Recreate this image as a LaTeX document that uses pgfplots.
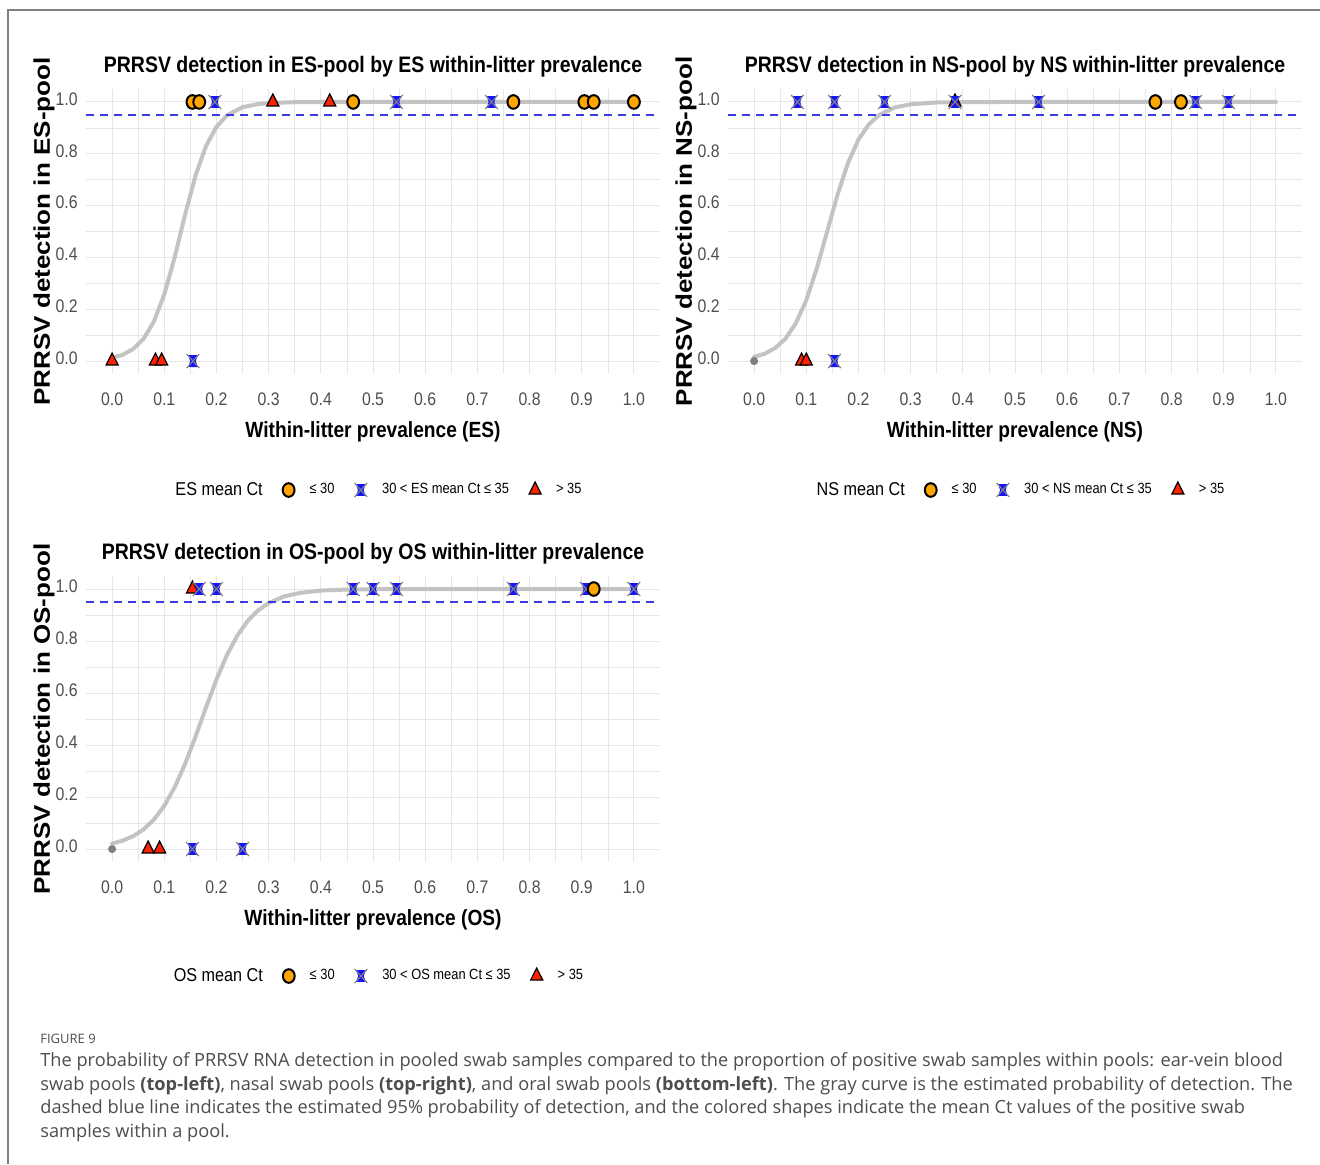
\documentclass[border=0pt]{standalone}
\usepackage{fontspec}
\setmainfont{Liberation Sans}
\newfontfamily\capfont{Open Sans}
\usepackage{graphicx}
\usepackage{pgfplots}
\pgfplotsset{compat=1.18}

\definecolor{ctorange}{HTML}{FFA500}
\definecolor{ctblue}{HTML}{1414FF}
\definecolor{ctred}{HTML}{FF2200}
\definecolor{curvegray}{HTML}{BDBDBD}
\definecolor{dashblue}{HTML}{3A3AE6}
\definecolor{gridgray}{HTML}{E6E6E6}
\definecolor{tickgray}{HTML}{4D4D4D}
\definecolor{captext}{HTML}{4D4D4D}
\definecolor{framegray}{HTML}{808080}

\newcommand{\sx}[1]{\scalebox{0.87}[1]{#1}}

\pgfdeclareplotmark{bowx}{%
  \pgfpathmoveto{\pgfpoint{-0.75\pgfplotmarksize}{-0.85\pgfplotmarksize}}%
  \pgfpathlineto{\pgfpoint{0.75\pgfplotmarksize}{-0.85\pgfplotmarksize}}%
  \pgfpathlineto{\pgfpoint{0.45\pgfplotmarksize}{0pt}}%
  \pgfpathlineto{\pgfpoint{0.75\pgfplotmarksize}{0.85\pgfplotmarksize}}%
  \pgfpathlineto{\pgfpoint{-0.75\pgfplotmarksize}{0.85\pgfplotmarksize}}%
  \pgfpathlineto{\pgfpoint{-0.45\pgfplotmarksize}{0pt}}%
  \pgfpathclose
  \pgfsetfillcolor{ctblue}\pgfusepathqfill
  \pgfpathmoveto{\pgfpoint{-\pgfplotmarksize}{-\pgfplotmarksize}}%
  \pgfpathlineto{\pgfpoint{\pgfplotmarksize}{\pgfplotmarksize}}%
  \pgfpathmoveto{\pgfpoint{-\pgfplotmarksize}{\pgfplotmarksize}}%
  \pgfpathlineto{\pgfpoint{\pgfplotmarksize}{-\pgfplotmarksize}}%
  \pgfsetstrokecolor{gray}\pgfsetlinewidth{0.6pt}\pgfusepathqstroke
}

\pgfplotsset{
  circ/.style={only marks, mark=*, mark size=3.4pt,
    mark options={fill=ctorange, draw=black, line width=1pt, xscale=0.87}},
  xm/.style={only marks, mark=bowx, mark size=3.5pt, mark options={xscale=0.9}},
  tri/.style={only marks, mark=triangle*, mark size=4pt,
    mark options={fill=ctred, draw=black, line width=0.6pt, xscale=0.87}},
  gdot/.style={only marks, mark=*, mark size=1.8pt, mark options={fill=gray, draw=gray}},
  fit/.style={no marks, draw=curvegray, line width=2pt, opacity=0.9, line cap=round},
  p95/.style={no marks, draw=dashblue, line width=1pt, dash pattern=on 4pt off 3pt},
  panel/.style={
    scale only axis, width=287pt,
    xmin=-0.05, xmax=1.05, ymin=-0.05, ymax=1.05,
    xtick={0,0.1,0.2,0.3,0.4,0.5,0.6,0.7,0.8,0.9,1},
    xticklabels={\sx{0.0},\sx{0.1},\sx{0.2},\sx{0.3},\sx{0.4},\sx{0.5},\sx{0.6},\sx{0.7},\sx{0.8},\sx{0.9},\sx{1.0}},
    ytick={0,0.2,0.4,0.6,0.8,1},
    yticklabels={\sx{0.0},\sx{0.2},\sx{0.4},\sx{0.6},\sx{0.8},\sx{1.0}},
    minor xtick={0.05,0.15,0.25,0.35,0.45,0.55,0.65,0.75,0.85,0.95},
    minor ytick={0.1,0.3,0.5,0.7,0.9},
    grid=both,
    major grid style={draw=gridgray, line width=0.5pt},
    minor grid style={draw=gridgray, line width=0.3pt},
    axis line style={draw=none},
    major tick length=0pt, minor tick length=0pt,
    tick style={draw=none},
    ticklabel style={font=\fontsize{9.1}{10}\selectfont, text=tickgray},
    xticklabel style={anchor=north, inner sep=0pt, yshift=-9pt},
    yticklabel style={anchor=east, inner sep=0pt, xshift=-4pt, yshift=1.5pt},
    title style={at={(axis description cs:0.5,1)}, anchor=center, yshift=5.25pt,
      font=\bfseries\fontsize{11.2}{13}\selectfont},
    xlabel style={at={(axis description cs:0.5,0)}, anchor=center, yshift=-29pt,
      font=\bfseries\fontsize{11}{13}\selectfont},
    ylabel style={at={([xshift=-21pt]axis description cs:0,0.5)}, anchor=center,
      font=\bfseries\fontsize{13}{15}\selectfont},
    legend columns=-1,
    legend style={draw=none, fill=none, at={(axis description cs:0.5,0)}, anchor=center,
      yshift=-58pt, font=\fontsize{7.4}{9}\selectfont,
      /tikz/every odd column/.append style={column sep=5.5pt},
      /tikz/every even column/.append style={column sep=8pt}},
  }
}

\begin{document}
\begin{tikzpicture}
\useasboundingbox (0,0) rectangle (660pt,-582pt);
\draw[framegray, line width=0.75pt] (4pt,-582pt) -- (4pt,-5pt) -- (660pt,-5pt);

% ---------------- ES panel ----------------
\begin{axis}[panel, height=142.5pt, at={(43pt,-187pt)}, anchor=south west,
  title={\sx{PRRSV detection in ES-pool by ES within-litter prevalence}},
  xlabel={\sx{Within-litter prevalence (ES)}},
  ylabel={\scalebox{1}[0.87]{PRRSV detection in ES-pool}}]
\addlegendimage{empty legend}\addlegendentry{\fontsize{9.3}{11}\selectfont\sx{ES mean Ct}}
\addlegendimage{circ}\addlegendentry{\sx{≤ 30}}
\addlegendimage{xm}\addlegendentry{\sx{30 < ES mean Ct ≤ 35}}
\addlegendimage{tri}\addlegendentry{\sx{> 35}}
\addplot[xm, forget plot] coordinates {(0.197,1)(0.545,1)(0.727,1)(0.155,0)};
\addplot[tri, forget plot] coordinates {(0.308,1)(0.417,1)(0.0,0)(0.083,0)(0.095,0)};
\addplot[circ, forget plot] coordinates {(0.154,1)(0.167,1)(0.462,1)(0.769,1)(0.905,1)(0.923,1)(1.0,1)};
\addplot[fit, forget plot] coordinates {(0,0.013)(0.02,0.024)(0.04,0.046)(0.06,0.085)(0.08,0.152)(0.10,0.257)(0.12,0.401)(0.14,0.566)(0.16,0.716)(0.18,0.830)(0.20,0.904)(0.22,0.948)(0.25,0.980)(0.28,0.992)(0.30,0.996)(0.35,0.999)(0.40,1.0)(1.0,1.0)};
\addplot[p95, forget plot] coordinates {(-0.05,0.95)(1.05,0.95)};
\end{axis}

% ---------------- NS panel ----------------
\begin{axis}[panel, height=142.5pt, at={(364pt,-187pt)}, anchor=south west,
  title={\sx{PRRSV detection in NS-pool by NS within-litter prevalence}},
  xlabel={\sx{Within-litter prevalence (NS)}},
  ylabel={\scalebox{1}[0.87]{PRRSV detection in NS-pool}}]
\addlegendimage{empty legend}\addlegendentry{\fontsize{9.3}{11}\selectfont\sx{NS mean Ct}}
\addlegendimage{circ}\addlegendentry{\sx{≤ 30}}
\addlegendimage{xm}\addlegendentry{\sx{30 < NS mean Ct ≤ 35}}
\addlegendimage{tri}\addlegendentry{\sx{> 35}}
\addplot[gdot, forget plot] coordinates {(0,0)};
\addplot[tri, forget plot] coordinates {(0.385,1)(0.091,0)(0.100,0)};
\addplot[xm, forget plot] coordinates {(0.083,1)(0.154,1)(0.25,1)(0.385,1)(0.545,1)(0.846,1)(0.909,1)(0.154,0)};
\addplot[circ, forget plot] coordinates {(0.769,1)(0.818,1)};
\addplot[fit, forget plot] coordinates {(0,0.016)(0.02,0.028)(0.04,0.050)(0.06,0.086)(0.08,0.146)(0.10,0.235)(0.12,0.357)(0.14,0.500)(0.16,0.643)(0.18,0.765)(0.20,0.855)(0.22,0.914)(0.24,0.950)(0.27,0.979)(0.30,0.991)(0.35,0.998)(0.40,0.9995)(0.50,1.0)(1.0,1.0)};
\addplot[p95, forget plot] coordinates {(-0.05,0.95)(1.05,0.95)};
\end{axis}

% ---------------- OS panel ----------------
\begin{axis}[panel, height=143pt, at={(43pt,-431pt)}, anchor=south west,
  title={\sx{PRRSV detection in OS-pool by OS within-litter prevalence}},
  xlabel={\sx{Within-litter prevalence (OS)}},
  ylabel={\scalebox{1}[0.87]{PRRSV detection in OS-pool}},
  legend style={yshift=1pt}]
\addlegendimage{empty legend}\addlegendentry{\fontsize{9.3}{11}\selectfont\sx{OS mean Ct}}
\addlegendimage{circ}\addlegendentry{\sx{≤ 30}}
\addlegendimage{xm}\addlegendentry{\sx{30 < OS mean Ct ≤ 35}}
\addlegendimage{tri}\addlegendentry{\sx{> 35}}
\addplot[gdot, forget plot] coordinates {(0,0)};
\addplot[tri, forget plot] coordinates {(0.154,1)(0.069,0)(0.091,0)};
\addplot[xm, forget plot] coordinates {(0.167,1)(0.2,1)(0.462,1)(0.5,1)(0.545,1)(0.769,1)(0.909,1)(1.0,1)(0.154,0)(0.25,0)};
\addplot[circ, forget plot] coordinates {(0.923,1)};
\addplot[fit, forget plot] coordinates {(0,0.021)(0.02,0.032)(0.04,0.049)(0.06,0.075)(0.08,0.113)(0.10,0.166)(0.12,0.238)(0.14,0.328)(0.16,0.433)(0.18,0.545)(0.20,0.652)(0.22,0.746)(0.24,0.821)(0.26,0.878)(0.28,0.918)(0.30,0.946)(0.33,0.972)(0.36,0.985)(0.40,0.994)(0.45,0.998)(0.50,0.9993)(0.60,1.0)(1.0,1.0)};
\addplot[p95, forget plot] coordinates {(-0.05,0.95)(1.05,0.95)};
\end{axis}

% ---------------- caption ----------------
\node[anchor=base west, inner sep=0pt, font=\capfont\fontsize{6.5}{8}\selectfont, text=captext] at (20pt,-521.5pt) {FIGURE 9};
\begin{scope}[every node/.style={anchor=base west, inner sep=0pt, font=\capfont\fontsize{9.1}{11}\selectfont, text=captext}]
\node at (20pt,-533pt) {The probability of PRRSV RNA detection in pooled swab samples compared to the proportion of positive swab samples within pools: ear-vein blood};
\node at (20pt,-545pt) {swab pools \textbf{(top-left)}, nasal swab pools \textbf{(top-right)}, and oral swab pools \textbf{(bottom-left)}. The gray curve is the estimated probability of detection. The};
\node at (20pt,-556.75pt) {dashed blue line indicates the estimated 95\% probability of detection, and the colored shapes indicate the mean Ct values of the positive swab};
\node at (20pt,-568.5pt) {samples within a pool.};
\end{scope}
\end{tikzpicture}
\end{document}
